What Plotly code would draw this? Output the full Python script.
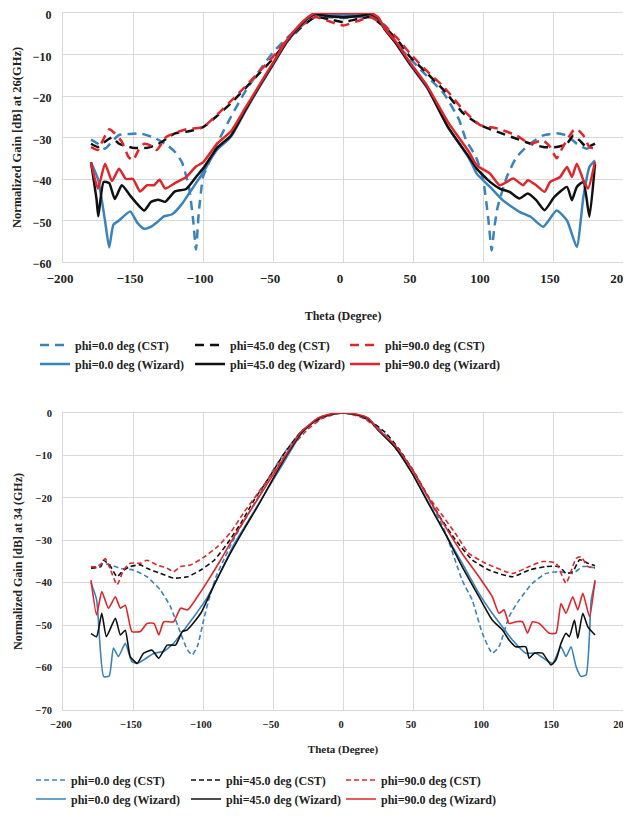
import plotly.graph_objects as go

# ---------------- 26 GHz (top chart) ----------------
th26_cst0 = [-180,-175,-170,-165,-160,-150,-145,-135,-125,-120,-115,-110,-107,-105,-103,-100,-97,-90,-80,-70,-60,-50,-40,-30,-20,-10,0,10,20,30,38,48,55,72,83,88,95,100,103.6,106.2,108,110.5,117,124,133.6,143,152.6,159.8,167,174,180]
g26_cst0 = [-30.5,-31.5,-32.7,-31,-29.4,-29.1,-29,-30,-32,-33.5,-36,-42,-50,-57,-48,-39.5,-37,-31.5,-25,-19,-14,-9.5,-6,-3,-1,-1,-1.2,-1,-1,-3,-7.4,-11,-13.5,-19.4,-25.8,-30.7,-34.7,-40,-49,-57.2,-52,-46.7,-39.5,-34.7,-31.5,-29.5,-29,-29.5,-31.5,-32.7,-31.5]

th26_cst45 = [-180,-175,-170,-165,-160,-150,-140,-135,-130,-125,-120,-110,-100,-90,-80,-70,-60,-50,-40,-30,-20,-10,0,10,20,30,40,48,60,72,86,98,110,124,134,143,152.6,160,164.5,169,174,180]
g26_cst45 = [-31.5,-32.3,-31,-30,-31.5,-32.5,-32.5,-32,-31.2,-30,-29,-28.5,-27.5,-24.8,-21.7,-18.2,-14.6,-11,-6.8,-3.5,-1,-1.5,-2.2,-1.5,-1,-3.5,-7,-10.6,-14.5,-18.6,-24.2,-27,-28.6,-30.3,-31.5,-32.3,-32.3,-31.5,-29.5,-30.7,-32.3,-31.5]

th26_cst90 = [-180,-175,-172,-167,-163,-158,-153,-150,-146,-142,-137,-133,-126,-112,-100,-90,-80,-70,-60,-50,-40,-30,-20,-10,0,10,20,30,40,48,60,72,86,98,110,124,133.6,143,148,152.6,157,164.5,167,171.7,176,180]
g26_cst90 = [-32.3,-33,-31,-28,-29,-31,-34.8,-35.5,-33,-31.5,-32,-33,-29.8,-28,-27.5,-24.5,-21.2,-17.8,-14.2,-10.5,-6.5,-3.2,-1,-2,-3,-2,-1,-3.2,-6.5,-9.8,-14,-17.8,-23.4,-27,-27.8,-29.5,-31.5,-30.7,-32.3,-35,-32.3,-28.3,-27.9,-29.5,-32.3,-32.7]

th26_wiz0 = [-180,-175,-170,-167,-164,-160,-152,-147,-142,-137,-133,-128,-122,-115,-110,-105,-100,-95,-90,-80,-70,-60,-50,-40,-30,-25,-20,-10,0,10,20,25,30,38,48,60,75,90,95.5,105,114,126,134,143,152.6,160,167,171.7,176,180]
g26_wiz0 = [-36,-40,-50,-56.5,-51,-50,-47.8,-50.5,-52,-51.5,-50.5,-49,-48.5,-46,-43.5,-41,-38.5,-35.5,-33,-29.8,-23.8,-18,-12.5,-7,-3,-1.3,-0.3,-0.5,-0.5,-0.5,-0.3,-1.3,-4,-7.4,-12.5,-18,-27.5,-35,-38.7,-41.9,-45.1,-47.9,-49.1,-51.5,-47.6,-50,-56.4,-44.3,-37.1,-35.5]

th26_wiz45 = [-180,-176,-174.8,-171,-167,-163,-158,-152,-147,-142,-137,-132,-127,-120,-112,-105,-100,-95,-90,-80,-70,-60,-50,-40,-30,-25,-20,-10,0,10,20,25,30,38,48,60,75,90,95.5,105,112,119,126,132,138,144,151,160,163.5,167,171.7,176,180]
g26_wiz45 = [-36,-45,-49,-40.7,-41,-44.8,-41.5,-44,-46,-47.6,-45.5,-45,-45.5,-43,-42.4,-39.5,-37.5,-35,-32.5,-29.5,-23.5,-17.8,-12.3,-6.8,-2.8,-1.2,-0.3,-0.8,-1,-0.8,-0.3,-1.2,-4,-7.4,-12.3,-17.8,-27.5,-34.7,-37.5,-40.7,-42.3,-43.1,-44.7,-43.5,-45.1,-47.5,-44.3,-41.9,-45.1,-41.9,-40.7,-49.1,-36.3]

th26_wiz90 = [-180,-175,-170,-165,-160,-155,-150,-145,-140,-135,-131,-127,-120,-112,-105,-100,-90,-80,-70,-60,-50,-40,-30,-25,-20,-10,0,10,20,25,30,38,48,60,75,90,95.5,105,112,121.6,128.6,132,138,144,148,155,160,163.5,167,171.7,175,180]
g26_wiz90 = [-36,-42.3,-36.3,-40.5,-37.5,-40,-40,-43,-41.5,-41.5,-40.2,-42.3,-41,-39.5,-37,-36,-31.5,-28.5,-23,-17.5,-12,-6.5,-2.5,-1,0,0,0,0,0,-1,-3.8,-7,-12,-17.5,-26.3,-33.5,-36.7,-38.7,-41.5,-39.9,-41.5,-40.3,-41.5,-43.1,-40.7,-39.5,-37.1,-39.5,-36.3,-40.3,-42.3,-35.9]

# ---------------- 34 GHz (bottom chart) ----------------
th34_cst0 = [-180,-176,-172,-166,-159,-150,-140,-130.5,-123.3,-116,-111,-107.7,-104,-99,-95,-90,-85,-80,-70,-60,-50,-40,-30,-20,-10,0,10,20,30,40,50,61,73,85.1,92.3,99.5,106.6,111.4,118.6,125.8,135.4,145,154.5,164.1,171.3,175,180]
g34_cst0 = [-36.6,-36.2,-35.5,-35.8,-36.6,-37,-38.6,-41.7,-45.6,-51.9,-55.9,-57,-55,-48,-43,-38,-34.5,-31,-25,-19.5,-13.5,-8.5,-4.5,-2,-0.5,0,-0.5,-2,-5,-9,-13.5,-20,-28,-39.4,-44.1,-51.9,-56.6,-55.1,-48,-44.1,-40.1,-37.8,-37.4,-37.8,-36.2,-36.2,-36.5]

th34_cst45 = [-180,-173,-171,-166,-161.4,-156.7,-152,-144.8,-140,-130.5,-121,-111,-101.6,-92,-82.7,-73,-63.5,-53.9,-41.9,-30,-20,-10,0,10,20,30,40,49,61,68.3,80.3,92.3,104.2,121,133,145,154.5,159.3,164.1,169,174.9,180]
g34_cst45 = [-36.6,-36.2,-34.7,-36.2,-38.6,-37,-36.2,-35.8,-36.6,-37.8,-38.9,-38.6,-37,-34.7,-30.8,-26,-20.5,-15.8,-9.5,-4.4,-2,-0.5,0,-0.5,-2,-4.5,-8.5,-13,-19.8,-24,-29.9,-34.6,-37,-38.6,-37,-36.2,-36.2,-37.8,-37.4,-34.6,-35.4,-36]

th34_cst90 = [-180,-174,-169.8,-166,-161.4,-156.7,-152,-144.8,-140,-132.9,-125.6,-121,-116,-108.9,-99,-89.6,-80,-70.5,-61,-49,-37,-25,-15,-5,0,5,15,25,37,49,61,68.3,80.3,89.9,101.9,121,133,142.5,152.1,159.3,166.5,170.1,174.9,180]
g34_cst90 = [-36.2,-36.2,-34.3,-37,-40.5,-37,-35.4,-35.4,-34.7,-35.8,-36.6,-37.4,-36.2,-35.8,-33.9,-31.5,-28,-23.3,-19,-13.5,-8.1,-3.8,-1.3,-0.2,0,-0.2,-1.3,-3.8,-8,-12.9,-19.7,-22.9,-28.4,-33.1,-35.4,-37.8,-36.2,-35,-35.4,-40.1,-34.3,-33.9,-36.2,-36.5]

th34_wiz0 = [-180,-176,-171,-167,-164,-160.4,-155.5,-150.8,-147,-142.4,-135,-128,-121,-113.6,-106.5,-97,-87.5,-78,-66,-54,-42,-30,-18,-10,0,10,18,25,37,49,61,73,85.1,97.1,106.6,113.8,121,130.6,137.8,145,149.7,155.7,159.3,162.9,166.5,170.1,173.7,177.3,180]
g34_wiz0 = [-40,-44,-62.1,-62,-55.4,-57.4,-54.3,-58.6,-59,-58.2,-56.6,-56.2,-54.3,-51.1,-48,-43.5,-37.5,-31,-24.5,-18,-11.5,-5,-1.3,-0.4,0,-0.4,-1.3,-4,-8,-14,-21,-28.4,-35.4,-42.5,-47.2,-50.4,-53.5,-56.6,-56.6,-58.2,-59,-55.1,-57.4,-55.1,-59.8,-62.1,-61.7,-44.1,-39.8]

th34_wiz45 = [-180,-176,-172.3,-169,-162.6,-159,-155.5,-152,-147,-142.4,-136.4,-131.6,-125.6,-119.6,-114.8,-111.2,-101.6,-92,-82,-70,-60,-50,-40,-30,-18,-10,0,10,18,25,37,49,61,73,85.1,97.1,106.6,113.8,118.6,123.4,130.6,133,136.6,142.5,148.5,152.1,155.7,159.3,161.7,165.3,167.7,171.3,174.9,180]
g34_wiz45 = [-52,-52.7,-47.2,-52.7,-48.4,-52.3,-51.2,-57.4,-59,-56.6,-55.9,-57.8,-54.7,-54.7,-51.5,-51.1,-47.2,-40.5,-34,-27,-21.5,-15.5,-9.8,-4.8,-1.3,-0.4,0,-0.4,-1.3,-4,-8,-14,-21.3,-28.4,-36.2,-43.3,-48.8,-51.1,-53.5,-55.1,-55.1,-57.8,-56.6,-56.6,-59.4,-58.2,-54.3,-51.9,-52.7,-48.8,-53.1,-47.2,-50.4,-52.3]

th34_wiz90 = [-180,-176,-172.3,-167.5,-162.6,-159,-155.5,-150.8,-144.8,-140,-135,-131.6,-128,-121,-116,-111,-104,-97,-87.5,-77.9,-65.9,-53.9,-42,-30,-18,-10,0,10,18,25,37,49,61,73.1,85.1,97.1,106.6,111.4,115,118.6,123.4,128.2,131.8,135.4,140.2,147.3,152.1,155.7,159.3,164.1,167.7,171.3,176.1,180]
g34_wiz90 = [-39.4,-47.6,-42.1,-46,-43.3,-46,-45.3,-51.5,-51.5,-49.6,-49.6,-52.3,-49.2,-49.2,-46,-46.4,-43.3,-39.8,-34.7,-29.2,-22.9,-16.6,-10.5,-4.5,-1.2,-0.3,0,-0.3,-1.2,-3.8,-7.5,-13.2,-20,-26.8,-33.1,-38.6,-43.3,-47.2,-46.4,-49.6,-49.2,-49.2,-51.9,-49.2,-49.6,-51.9,-51.9,-44.9,-47.2,-43.3,-46.4,-42.5,-48,-39.4]

names = ["phi=0.0 deg (CST)", "phi=45.0 deg (CST)", "phi=90.0 deg (CST)",
         "phi=0.0 deg (Wizard)", "phi=45.0 deg (Wizard)", "phi=90.0 deg (Wizard)"]
x_ticks = [-200, -150, -100, -50, 0, 50, 100, 150, 200]
y_ticks_26 = [0, -10, -20, -30, -40, -50, -60]
y_ticks_34 = [0, -10, -20, -30, -40, -50, -60, -70]

BLUE = "#3A83BD"
BLACK = "#111111"
RED = "#E1262B"
colors = [BLUE, BLACK, RED, BLUE, BLACK, RED]
FONT = "Liberation Serif, Times New Roman, serif"

top_series = [(th26_cst0, g26_cst0), (th26_cst45, g26_cst45), (th26_cst90, g26_cst90),
              (th26_wiz0, g26_wiz0), (th26_wiz45, g26_wiz45), (th26_wiz90, g26_wiz90)]
bot_series = [(th34_cst0, g34_cst0), (th34_cst45, g34_cst45), (th34_cst90, g34_cst90),
              (th34_wiz0, g34_wiz0), (th34_wiz45, g34_wiz45), (th34_wiz90, g34_wiz90)]

fig = go.Figure()
for i, (tx, gy) in enumerate(top_series):
    fig.add_trace(go.Scatter(
        x=tx, y=gy, mode="lines", name=names[i], xaxis="x", yaxis="y", legend="legend",
        line=dict(color=colors[i], width=2.5, dash="9px,6px" if i < 3 else "solid",
                  shape="spline", smoothing=0.5)))
for i, (tx, gy) in enumerate(bot_series):
    fig.add_trace(go.Scatter(
        x=tx, y=gy, mode="lines", name=names[i], xaxis="x2", yaxis="y2", legend="legend2",
        line=dict(color=colors[i], width=1.6, dash="5px,3px" if i < 3 else "solid",
                  shape="spline", smoothing=0.5)))

# the page adds an 8px body margin, so the figure is laid out 8px smaller
W, H = 623, 815
ML, MR, MT, MB = 55, 8, 5, 113
H_TOT = H - MT - MB  # 697
top_dom = [(702 - 254) / H_TOT, 1.0]
bot_dom = [0.0, (702 - 405) / H_TOT]

grid = "#D9D9D9"
common_x = dict(range=[-200, 200], tickvals=x_ticks, showgrid=True, gridcolor=grid, gridwidth=1,
                zeroline=False, showline=True, linecolor=grid, mirror=True, ticks="",
                ticklabeloverflow="allow")
common_y = dict(showgrid=True, gridcolor=grid, gridwidth=1, zeroline=False, showline=True,
                linecolor=grid, mirror=True, ticks="", ticklabeloverflow="allow")

fig.update_layout(
    width=W, height=H,
    margin=dict(l=ML, r=MR, t=MT, b=MB, autoexpand=False),
    paper_bgcolor="white", plot_bgcolor="white",
    font=dict(family=FONT, color="#222222"),
    showlegend=True,
    xaxis=dict(domain=[0, 1], anchor="y", **common_x,
               tickfont=dict(family=FONT, size=13, weight="bold"), ticklabelstandoff=4, ticklabelshift=-3,
               title=dict(text="Theta (Degree)", font=dict(family=FONT, size=12, weight="bold"), standoff=27)),
    yaxis=dict(domain=top_dom, anchor="x", range=[-60, 0], tickvals=y_ticks_26, **common_y,
               tickfont=dict(family=FONT, size=12, weight="bold"), ticklabelstandoff=8, ticklabelshift=2,
               title=dict(text="Normalized Gain [dB] at 26(GHz)", font=dict(family=FONT, size=12.5, weight="bold"), standoff=8)),
    xaxis2=dict(domain=[0, 1], anchor="y2", **common_x,
                tickfont=dict(family=FONT, size=10.5, weight="bold"), ticklabelstandoff=4, ticklabelshift=-2,
                title=dict(text="Theta (Degree)", font=dict(family=FONT, size=11, weight="bold"), standoff=16)),
    yaxis2=dict(domain=bot_dom, anchor="x2", range=[-70, 0], tickvals=y_ticks_34, **common_y,
                tickfont=dict(family=FONT, size=10.5, weight="bold"), ticklabelstandoff=8,
                title=dict(text="Normalized Gain [dB] at 34 (GHz)", font=dict(family=FONT, size=12, weight="bold"), standoff=10)),
    legend=dict(orientation="h", xref="container", yref="container",
                x=27 / W, xanchor="left", y=1 - 322.5 / H, yanchor="top",
                entrywidth=110, entrywidthmode="pixels", traceorder="normal",
                font=dict(family=FONT, size=12, weight="bold", color="#222222"),
                bgcolor="rgba(0,0,0,0)", itemwidth=30),
    legend2=dict(orientation="h", xref="container", yref="container",
                 x=23 / W, xanchor="left", y=1 - 757.5 / H, yanchor="top",
                 entrywidth=110, entrywidthmode="pixels", traceorder="normal",
                 font=dict(family=FONT, size=12, weight="bold", color="#222222"),
                 bgcolor="rgba(0,0,0,0)", itemwidth=30),
)

fig.write_html("out.html")
